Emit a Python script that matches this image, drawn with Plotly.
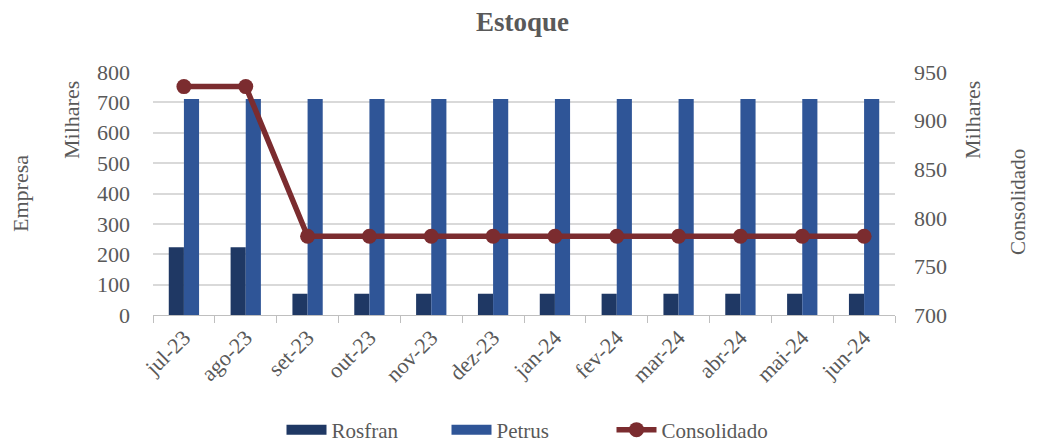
import plotly.graph_objects as go

meses = ["jul-23", "ago-23", "set-23", "out-23", "nov-23", "dez-23",
         "jan-24", "fev-24", "mar-24", "abr-24", "mai-24", "jun-24"]
rosfran = [223, 223, 70, 70, 70, 70, 70, 70, 70, 70, 70, 70]
petrus = [711, 711, 711, 711, 711, 711, 711, 711, 711, 711, 711, 711]
consolidado = [935, 935, 781, 781, 781, 781, 781, 781, 781, 781, 781, 781]

FONT = "Liberation Serif, Times New Roman, serif"
TXT = "#595959"
GRID = "#D9D9D9"
C_ROS = "#1F3864"
C_PET = "#2F5597"
C_CON = "#7B2C2F"

# the page puts the figure 8px in from the top-left corner
OFF = 8
W, H = 1037 - OFF, 443 - OFF
L, R, T, B = 153 - OFF, 895 - OFF, 72 - OFF, 315 - OFF
PW, PH = R - L, B - T

fig = go.Figure()
fig.add_trace(go.Bar(x=meses, y=rosfran, name="Rosfran", showlegend=False,
                     marker=dict(color=C_ROS, line=dict(width=0))))
fig.add_trace(go.Bar(x=meses, y=petrus, name="Petrus", showlegend=False,
                     marker=dict(color=C_PET, line=dict(width=0))))
fig.add_trace(go.Scatter(x=meses, y=consolidado, name="Consolidado", yaxis="y2",
                         mode="lines+markers", showlegend=False,
                         line=dict(color=C_CON, width=5.5),
                         marker=dict(color=C_CON, size=15)))

# legend entries (wide swatches like the original)
fig.add_trace(go.Scatter(x=[None], y=[None], name="Rosfran", mode="lines",
                         line=dict(color=C_ROS, width=14)))
fig.add_trace(go.Scatter(x=[None], y=[None], name="Petrus", mode="lines",
                         line=dict(color=C_PET, width=14)))
fig.add_trace(go.Scatter(x=[None], y=[None], name="Consolidado", mode="lines+markers",
                         line=dict(color=C_CON, width=5.5), marker=dict(color=C_CON, size=15)))

ann = dict(xref="paper", yref="paper", showarrow=False, textangle=-90,
           xanchor="center", yanchor="middle", font=dict(size=22, color=TXT))


def px_x(x):
    return (x - OFF - L) / PW


def px_y(y):
    return (B - (y - OFF)) / PH


fig.update_layout(
    width=W, height=H,
    paper_bgcolor="white", plot_bgcolor="white",
    font=dict(family=FONT, color=TXT, size=22),
    margin=dict(l=L, r=W - R, t=T, b=H - B, autoexpand=False),
    title=dict(text="<b>Estoque</b>", x=0.5, xanchor="center", y=1 - (22 - OFF) / H,
               yanchor="middle", font=dict(size=27, color=TXT)),
    barmode="group", bargap=0.51, bargroupgap=0,
    showlegend=True,
    legend=dict(orientation="h", x=px_x(529), xanchor="center", y=px_y(430), yanchor="middle",
                font=dict(size=21, color=TXT), itemwidth=40, tracegroupgap=0,
                entrywidth=110, entrywidthmode="pixels"),
    xaxis=dict(range=[-0.5, 11.5], tickangle=-45, ticks="outside", tickson="boundaries",
               ticklen=7, tickcolor="#BFBFBF", showline=True, linecolor="#BFBFBF",
               showgrid=False, automargin=False, tickfont=dict(size=22)),
    yaxis=dict(range=[0, 800], dtick=100, showgrid=True, gridcolor=GRID, gridwidth=1.5,
               zeroline=False, showline=False, ticks="", ticklabelstandoff=22,
               automargin=False, tickfont=dict(size=22)),
    yaxis2=dict(range=[700, 950], dtick=50, overlaying="y", side="right", showgrid=False,
                zeroline=False, showline=False, ticks="", ticklabelstandoff=18,
                automargin=False, tickfont=dict(size=22)),
    annotations=[
        dict(ann, text="Empresa", x=px_x(20), y=px_y(194)),
        dict(ann, text="Milhares", x=px_x(71), y=px_y(120)),
        dict(ann, text="Milhares", x=px_x(972), y=px_y(120)),
        dict(ann, text="Consolidado", x=px_x(1018), y=px_y(202), font=dict(size=21, color=TXT)),
    ],
)

fig.write_html("out.html")
